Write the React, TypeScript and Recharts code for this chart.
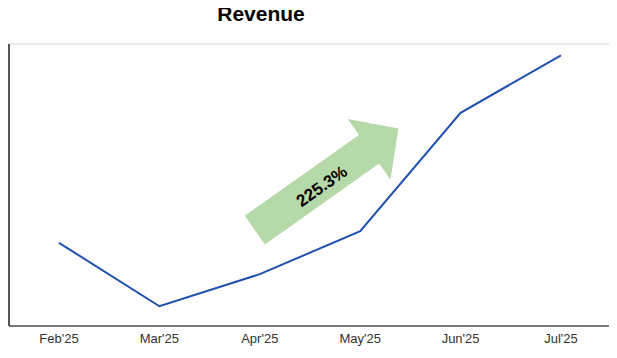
import { CartesianGrid, Line, LineChart, ReferenceDot, XAxis, YAxis } from "recharts"

const months = ["Feb'25", "Mar'25", "Apr'25", "May'25", "Jun'25", "Jul'25"]
const revenue = [1.475, 0.35, 0.92, 1.68, 3.78, 4.8]
const yTicks = [0, 1, 2, 3, 4, 5]
const growthLabel = "225.3%"
const title = "Revenue"

const data = months.map((m, i) => ({ month: m, revenue: revenue[i] }))

// green arrow annotation, drawn in local coords then rotated
function GrowthArrow(props: any) {
  const { cx, cy } = props
  if (cx == null || cy == null) return null
  const pts = "0,-17.5 140,-17.5 140,-37 176,0 140,37 140,17.5 0,17.5"
  return (
    <g transform={`translate(${cx - 5},${cy}) rotate(-35.3)`}>
      <polygon points={pts} fill="#b6d9a9" />
      <text
        x={80}
        y={3}
        textAnchor="middle"
        dominantBaseline="central"
        fontFamily="Liberation Sans, Arial, sans-serif"
        fontWeight="bold"
        fontSize={17}
        fill="#000"
      >
        {growthLabel}
      </text>
    </g>
  )
}

export default function App() {
  return (
    <div style={{ position: "relative", width: 603, height: 350 }}>
      <svg
        width={603}
        height={36}
        style={{ position: "absolute", top: -8, left: 0, zIndex: 1 }}
      >
        <text
          x={253}
          y={20.5}
          textAnchor="middle"
          fontFamily="Liberation Sans, Arial, sans-serif"
          fontWeight="bold"
          fontSize={21}
          fill="#000"
        >
          {title}
        </text>
      </svg>
      <LineChart
        width={603}
        height={350}
        data={data}
        margin={{ top: 36, right: 0, left: 0, bottom: 8 }}
      >
        <CartesianGrid vertical={false} stroke="#d4d4d4" />
        <XAxis
          dataKey="month"
          tickLine={false}
          axisLine={{ stroke: "#555", strokeWidth: 1.5 }}
          tick={{ fill: "#333", fontSize: 13, fontFamily: "Liberation Sans, Arial, sans-serif" }}
          height={24}
          interval={0}
          padding={{ left: 50, right: 50 }}
        />
        <YAxis
          domain={[0, 5]}
          ticks={yTicks}
          tick={false}
          tickLine={false}
          width={1}
          axisLine={{ stroke: "#555", strokeWidth: 2 }}
        />
        <Line
          type="linear"
          dataKey="revenue"
          stroke="#1f4fb0"
          strokeWidth={2}
          dot={false}
          isAnimationActive={false}
        />
        <ReferenceDot x="Apr'25" y={1.7} r={0} shape={GrowthArrow} />
      </LineChart>
    </div>
  )
}
